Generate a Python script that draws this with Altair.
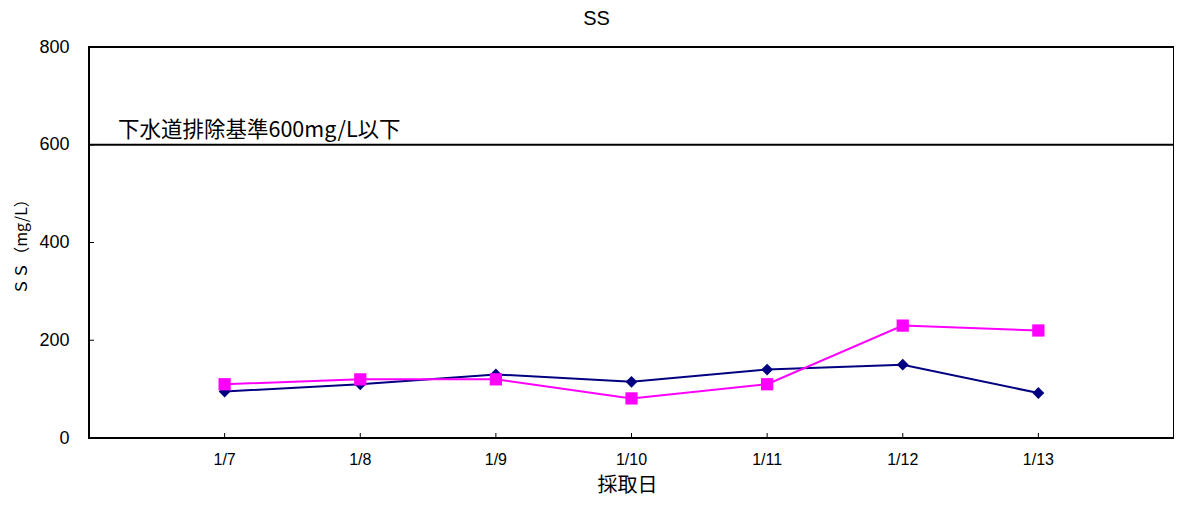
import altair as alt
import pandas as pd

dates = ["1/7", "1/8", "1/9", "1/10", "1/11", "1/12", "1/13"]
series_names = ["系列1", "系列2"]
navy_values = [95, 110, 130, 115, 140, 150, 92]
magenta_values = [110, 120, 120, 81, 110, 230, 220]
y_ticks = [0, 200, 400, 600, 800]
limit_value = [600]
limit_label = "下水道排除基準600mg/L以下"

rows = []
for d, v in zip(dates, navy_values):
    rows.append({"date": d, "series": series_names[0], "value": v})
for d, v in zip(dates, magenta_values):
    rows.append({"date": d, "series": series_names[1], "value": v})
df = pd.DataFrame(rows)
df_limit = pd.DataFrame({"value": limit_value, "label": [limit_label]})
df_yt = pd.DataFrame({"value": y_ticks[1:-1]})
df_xt = pd.DataFrame({"date": dates})

FONT = "Liberation Sans"
CJK = "Noto Sans CJK JP"

xscale = alt.Scale(domain=dates, padding=1)
yscale = alt.Scale(domain=[0, 800])

x_axis = alt.Axis(title="採取日", labelAngle=0, labelFont=FONT, labelFontSize=16,
                  labelColor="black", labelPadding=13, ticks=False, domain=False, grid=False,
                  titleFont=CJK, titleFontSize=20, titleFontWeight="normal",
                  titleColor="black", titlePadding=8, titleX=538)
y_axis = alt.Axis(title="ＳＳ（mg/L）", values=y_ticks, labelFont=FONT, labelFontSize=18,
                  labelColor="black", labelPadding=20, ticks=False, domain=False, grid=False,
                  titleFont=CJK, titleFontSize=16, titleFontWeight="normal",
                  titleColor="black", titlePadding=9)


def X(field="date:O"):
    return alt.X(field, scale=xscale, sort=dates, axis=x_axis)


def Y(field="value:Q"):
    return alt.Y(field, scale=yscale, axis=y_axis)


color_scale = alt.Scale(domain=series_names, range=["#000080", "#FF00FF"])
shape_scale = alt.Scale(domain=series_names, range=["diamond", "square"])
size_scale = alt.Scale(domain=series_names, range=[140, 150])

base = alt.Chart(df)


def series_layers(name):
    sub = base.transform_filter(alt.datum.series == name)
    line = sub.mark_line(strokeWidth=2).encode(
        x=X(), y=Y(), color=alt.Color("series:N", scale=color_scale, legend=None)
    )
    pts = sub.mark_point(filled=True, opacity=1).encode(
        x=X(), y=Y(),
        color=alt.Color("series:N", scale=color_scale, legend=None),
        shape=alt.Shape("series:N", scale=shape_scale, legend=None),
        size=alt.Size("series:N", scale=size_scale, legend=None),
    )
    return [line, pts]


limit_rule = alt.Chart(df_limit).mark_rule(color="black", strokeWidth=2).encode(y=Y())
limit_text = alt.Chart(df_limit).mark_text(
    align="left", baseline="bottom", font=CJK, fontSize=21.5, color="black", dy=-3
).encode(y=Y(), x=alt.value(29), text="label:N")

ytick_marks = alt.Chart(df_yt).mark_rule(color="black", strokeWidth=1).encode(
    y=Y(), x=alt.value(0), x2=alt.value(5)
)
xtick_marks = alt.Chart(df_xt).mark_rule(color="black", strokeWidth=1).encode(
    x=X(), y=alt.value(391), y2=alt.value(386)
)

layers = [limit_rule, limit_text, ytick_marks, xtick_marks]
layers += series_layers(series_names[0])
layers += series_layers(series_names[1])

chart = alt.layer(*layers).properties(
    width=1085, height=391,
    background="white",
    title=alt.TitleParams("SS", font=FONT, fontSize=20, fontWeight="normal", color="black",
                          anchor="middle", dx=-35, offset=9),
    autosize=alt.AutoSizeParams(type="none"),
    padding={"left": 81, "top": 39, "right": 0, "bottom": 60},
).configure_view(
    stroke="black", strokeWidth=2
)

chart.save("out.html", embed_options={"renderer": "svg", "actions": False})
